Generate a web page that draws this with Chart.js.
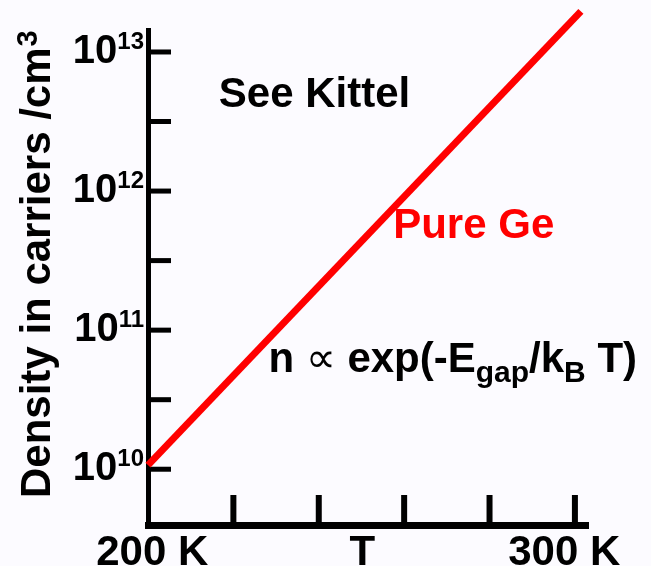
<!DOCTYPE html>
<html>
<head>
<meta charset="utf-8">
<script src="https://cdn.jsdelivr.net/npm/chart.js@4/dist/chart.umd.min.js"></script>
<style>
  html, body { margin: 0; padding: 0; background: #fcfbff; }
  #wrap { width: 651px; height: 566px; position: relative; }
</style>
</head>
<body>
<div id="wrap"><canvas id="c" width="651" height="566"></canvas></div>
<script>
// ---- data ----
const temperatures = [200, 301.4];          // K
const densities = [1.07e10, 1.96e13];       // carriers / cm^3
const seriesLabel = 'Pure Ge';

// ---- axis ticks and labels ----
const xTickValues = [220, 240, 260, 280, 300];
const xLabelTexts = ['200 K', 'T', '300 K'];
const xLabelValues = [201, 250.2, 297.5];
const yTickExponents = [10, 10.5, 11, 11.5, 12, 12.5, 13];
const yTitle = 'Density in carriers /cm';
const yTitleSup = '3';

// ---- annotations ----
const noteKittel = 'See Kittel';
const formulaParts = [
  { t: 'n ', f: 'bold 42px "Liberation Sans", Arial, sans-serif', dy: 0 },
  { t: '\u221D', f: '42px "DejaVu Sans", sans-serif', dy: 0 },
  { t: ' exp(-E', f: 'bold 42px "Liberation Sans", Arial, sans-serif', dy: 0 },
  { t: 'gap', f: 'bold 30px "Liberation Sans", Arial, sans-serif', dy: 10 },
  { t: '/k', f: 'bold 42px "Liberation Sans", Arial, sans-serif', dy: 0 },
  { t: 'B', f: 'bold 30px "Liberation Sans", Arial, sans-serif', dy: 10 },
  { t: ' T)', f: 'bold 42px "Liberation Sans", Arial, sans-serif', dy: 0 }
];

const FONT = '"Liberation Sans", Arial, Helvetica, sans-serif';

const bgPlugin = {
  id: 'bg',
  beforeDraw(chart) {
    const ctx = chart.ctx;
    ctx.save();
    ctx.fillStyle = '#fcfbff';
    ctx.fillRect(0, 0, chart.width, chart.height);
    ctx.restore();
  }
};

const ticksPlugin = {
  id: 'insideTicks',
  beforeDatasetsDraw(chart) {
    const ctx = chart.ctx;
    const xs = chart.scales.x, ys = chart.scales.y;
    const area = chart.chartArea;
    ctx.save();
    ctx.strokeStyle = '#000';
    ctx.lineCap = 'butt';
    ctx.lineWidth = 5;
    ys.ticks.forEach(t => {
      const y = ys.getPixelForValue(t.value);
      ctx.beginPath();
      ctx.moveTo(area.left, y);
      ctx.lineTo(area.left + 23, y);
      ctx.stroke();
    });
    ctx.lineWidth = 6;
    xs.ticks.forEach(t => {
      const x = xs.getPixelForValue(t.value);
      ctx.beginPath();
      ctx.moveTo(x, area.bottom);
      ctx.lineTo(x, area.bottom - 30);
      ctx.stroke();
    });
    ctx.restore();
  }
};

const textPlugin = {
  id: 'texts',
  afterDraw(chart) {
    const ctx = chart.ctx;
    const xs = chart.scales.x, ys = chart.scales.y;
    const area = chart.chartArea;
    ctx.save();
    ctx.fillStyle = '#000';
    ctx.textBaseline = 'alphabetic';

    // y tick labels 10^n
    ys.ticks.forEach(t => {
      const e = Math.log10(t.value);
      if (Math.abs(e - Math.round(e)) > 1e-6) return;
      const y = ys.getPixelForValue(t.value);
      const sup = String(Math.round(e));
      ctx.font = 'bold 24px ' + FONT;
      ctx.textAlign = 'right';
      const supRight = area.left - 4;
      ctx.fillText(sup, supRight, y - 3);
      const sw = ctx.measureText(sup).width;
      ctx.font = 'bold 40px ' + FONT;
      ctx.fillText('10', supRight - sw, y + 11);
    });

    // x labels
    ctx.font = 'bold 42px ' + FONT;
    ctx.textAlign = 'center';
    xLabelTexts.forEach((txt, i) => {
      ctx.fillText(txt, xs.getPixelForValue(xLabelValues[i]), 565);
    });

    // y title (rotated)
    ctx.save();
    ctx.translate(50, 498);
    ctx.rotate(-Math.PI / 2);
    ctx.textAlign = 'left';
    ctx.font = 'bold 42px ' + FONT;
    ctx.fillText(yTitle, 0, 0);
    const tw = ctx.measureText(yTitle).width;
    ctx.font = 'bold 29px ' + FONT;
    ctx.fillText(yTitleSup, tw + 1, -13);
    ctx.restore();

    // annotations
    ctx.textAlign = 'center';
    ctx.font = 'bold 42px ' + FONT;
    ctx.fillStyle = '#000';
    ctx.fillText(noteKittel, xs.getPixelForValue(239), ys.getPixelForValue(Math.pow(10, 12.604)));

    ctx.fillStyle = '#ff0000';
    ctx.fillText(seriesLabel, xs.getPixelForValue(276.3), ys.getPixelForValue(Math.pow(10, 11.662)));

    // formula
    ctx.fillStyle = '#000';
    ctx.textAlign = 'left';
    let x = xs.getPixelForValue(228.2);
    const by = ys.getPixelForValue(Math.pow(10, 10.699));
    formulaParts.forEach(p => {
      ctx.font = p.f;
      ctx.fillText(p.t, x, by + p.dy);
      x += ctx.measureText(p.t).width;
    });
    ctx.restore();
  }
};

const points = temperatures.map((t, i) => ({ x: t, y: densities[i] }));

new Chart(document.getElementById('c'), {
  type: 'line',
  data: {
    datasets: [{
      label: seriesLabel,
      data: points,
      borderColor: '#ff0000',
      borderWidth: 7,
      borderCapStyle: 'butt',
      pointRadius: 0,
      tension: 0,
      fill: false,
      clip: false
    }]
  },
  options: {
    responsive: false,
    animation: false,
    devicePixelRatio: 1,
    layout: { padding: { left: 148, right: 62, top: 30, bottom: 41 } },
    plugins: { legend: { display: false }, tooltip: { enabled: false } },
    scales: {
      x: {
        type: 'linear',
        min: 200,
        max: 303.3,
        afterBuildTicks: (scale) => { scale.ticks = xTickValues.map(v => ({ value: v })); },
        grid: { display: true, drawOnChartArea: false, drawTicks: false, lineWidth: 0 },
        border: { display: true, color: '#000', width: 7 },
        ticks: { display: false }
      },
      y: {
        type: 'logarithmic',
        min: Math.pow(10, 9.599),
        max: Math.pow(10, 13.158),
        afterBuildTicks: (scale) => { scale.ticks = yTickExponents.map(e => ({ value: Math.pow(10, e) })); },
        grid: { display: true, drawOnChartArea: false, drawTicks: false, lineWidth: 0 },
        border: { display: true, color: '#000', width: 5 },
        ticks: { display: false }
      }
    }
  },
  plugins: [bgPlugin, ticksPlugin, textPlugin]
});
</script>
</body>
</html>
